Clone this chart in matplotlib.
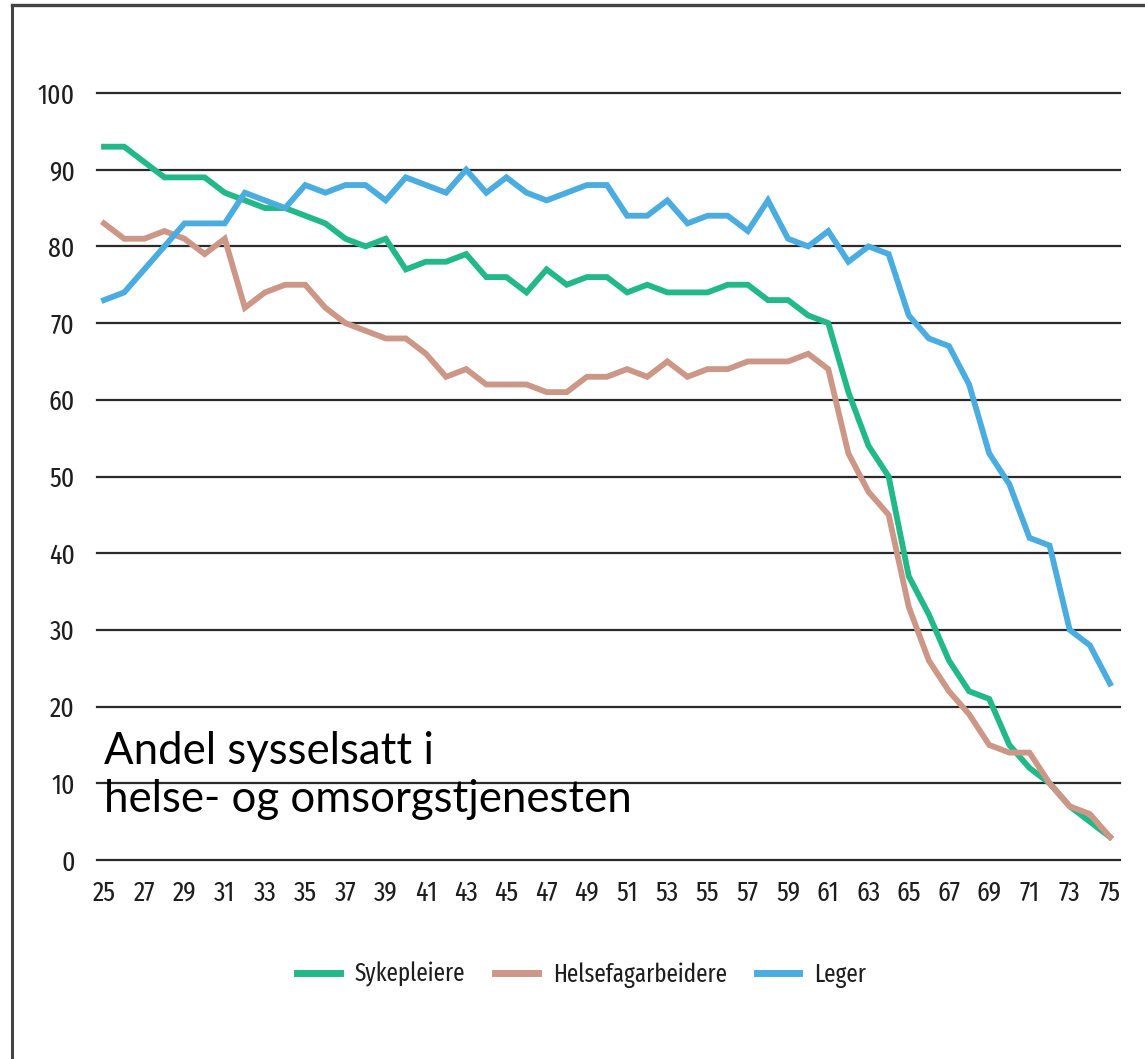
import matplotlib
matplotlib.use("Agg")
import os
import matplotlib.pyplot as plt
from matplotlib.lines import Line2D
from matplotlib import font_manager as fm

ages = list(range(25, 76))

sykepleiere = [93, 93, 91, 89, 89, 89, 87, 86, 85, 85,
               84, 83, 81, 80, 81, 77, 78, 78, 79, 76,
               76, 74, 77, 75, 76, 76, 74, 75, 74, 74,
               74, 75, 75, 73, 73, 71, 70, 61, 54, 50,
               37, 32, 26, 22, 21, 15, 12, 10, 7, 5, 3]

helsefagarbeidere = [83, 81, 81, 82, 81, 79, 81, 72, 74, 75,
                     75, 72, 70, 69, 68, 68, 66, 63, 64, 62,
                     62, 62, 61, 61, 63, 63, 64, 63, 65, 63,
                     64, 64, 65, 65, 65, 66, 64, 53, 48, 45,
                     33, 26, 22, 19, 15, 14, 14, 10, 7, 6, 3]

leger = [73, 74, 77, 80, 83, 83, 83, 87, 86, 85,
         88, 87, 88, 88, 86, 89, 88, 87, 90, 87,
         89, 87, 86, 87, 88, 88, 84, 84, 86, 83,
         84, 84, 82, 86, 81, 80, 82, 78, 80, 79,
         71, 68, 67, 62, 53, 49, 42, 41, 30, 28, 23]

series_names = ["Sykepleiere", "Helsefagarbeidere", "Leger"]
colors = ["#22B887", "#CC9787", "#4BADDF"]

xtick_vals = list(range(25, 76, 2))
ytick_vals = list(range(0, 101, 10))

annot = "Andel sysselsatt i\nhelse- og omsorgstjenesten"


def find_narrow_font():
    prefs = ["extracondensed", "liberationsansnarrow-regular", "dejavusanscondensed.ttf",
             "notosans-condensed", "opensans-condensed", "robotocondensed-regular",
             "condensed", "narrow"]
    bad = ["bold", "italic", "oblique", "light", "semi", "medium", "thin", "black",
           "mono", "serif", "ultra"]
    files = [f.fname for f in fm.fontManager.ttflist]
    for key in prefs:
        for fn in sorted(files):
            b = os.path.basename(fn).lower()
            if key in b and not any(x in b for x in bad):
                return fm.FontProperties(fname=fn), True
    return fm.FontProperties(family="DejaVu Sans"), False


base_fp, narrow = find_narrow_font()
tick_fp = base_fp.copy()
tick_fp.set_size(20 if narrow else 15)
leg_fp = base_fp.copy()
leg_fp.set_size(18 if narrow else 14)

W, H = 1145, 1059
fig = plt.figure(figsize=(W / 100, H / 100), dpi=100)
fig.patch.set_facecolor("white")

left, right = 97 / W, 1120 / W
top, bottom = 1 - 93 / H, 1 - 860 / H
ax = fig.add_axes([left, bottom, right - left, top - bottom])

for vals, name, c in zip([sykepleiere, helsefagarbeidere, leger], series_names, colors):
    ax.plot(ages, vals, color=c, lw=4.2, label=name, solid_joinstyle="miter",
            clip_on=False, zorder=3)

ax.set_xlim(24.65, 75.5)
ax.set_ylim(0, 100)
ax.set_xticks(xtick_vals)
ax.set_yticks(ytick_vals)
ax.set_xticklabels([str(v) for v in xtick_vals], fontproperties=tick_fp, color="#1e1e1e")
ax.set_yticklabels([str(v) for v in ytick_vals], fontproperties=tick_fp, color="#1e1e1e")
ax.tick_params(axis="both", length=0)
ax.tick_params(axis="y", pad=16)
ax.tick_params(axis="x", pad=14)
for s in ax.spines.values():
    s.set_visible(False)
ax.yaxis.grid(True, color="#2a2a2a", lw=1.6, zorder=1)
ax.xaxis.grid(False)
ax.set_axisbelow(True)
for gl in ax.get_ygridlines():
    gl.set_clip_on(False)

ax.text(25.0, 5.2, annot, fontsize=31.5, family=["Lato", "DejaVu Sans"],
        color="black", ha="left", va="bottom", linespacing=1.22, zorder=4)

leg = fig.legend(loc="center", bbox_to_anchor=(0.508, 1 - 975 / H), ncol=3,
                 frameon=False, prop=leg_fp,
                 handlelength=1.7, handletextpad=0.6, columnspacing=1.2)
for h in leg.legend_handles:
    h.set_linewidth(5)
for t in leg.get_texts():
    t.set_color("#1e1e1e")

# outer frame
fig.add_artist(Line2D([12 / W, 1.0], [1 - 5 / H, 1 - 5 / H], transform=fig.transFigure,
                      color="#444444", lw=2.4))
fig.add_artist(Line2D([12 / W, 12 / W], [0, 1 - 5 / H], transform=fig.transFigure,
                      color="#444444", lw=2.2))

fig.savefig("out.png", dpi=100, facecolor="white")
